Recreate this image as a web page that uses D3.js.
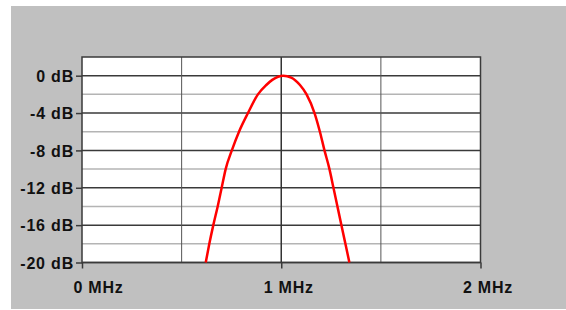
<!DOCTYPE html>
<html>
<head>
<meta charset="utf-8">
<script src="https://cdn.jsdelivr.net/npm/d3@7"></script>
<style>
  body { margin: 0; background: #fff; }
  text { font-family: "Liberation Sans", Arial, sans-serif; font-weight: bold; fill: #111; }
</style>
</head>
<body>
<div id="graph"></div>
<script>
// response curve (MHz, dB)
const freqMHz = [0.621, 0.639, 0.659, 0.681, 0.701, 0.721, 0.752, 0.788, 0.833, 0.883, 0.925, 0.955, 1.01, 1.05, 1.094, 1.127, 1.167, 1.194, 1.217, 1.242, 1.262, 1.282, 1.302, 1.322, 1.342];
const levelDb = [-20, -18, -16, -14, -12, -10, -8, -6, -4, -2, -1, -0.45, 0, -0.2, -1, -2, -4, -6, -8, -10, -12, -14, -16, -18, -20];

const xTicks = [0, 1, 2];
const xTickLabels = ["0 MHz", "1 MHz", "2 MHz"];
const xGrid = [0.5, 1, 1.5];
const yTicks = [0, -4, -8, -12, -16, -20];
const yTickLabels = ["0 dB", "-4 dB", "-8 dB", "-12 dB", "-16 dB", "-20 dB"];
const yMinor = [-2, -6, -10, -14, -18];

const data = freqMHz.map((f, i) => ({ f: f, db: levelDb[i] }));

let margin = {top: 57, left: 82},
    width = 398.5,
    height = 205.5;

let svg = d3.select("#graph")
      .append("svg")
      .attr("width", 566)
      .attr("height", 310);

// grey panel
svg.append("rect")
      .attr("x", 11).attr("y", 6)
      .attr("width", 555).attr("height", 303)
      .attr("fill", "#c0c0c0");

let x = d3.scaleLinear().domain([0, 2]).range([0, width]),
    y = d3.scaleLinear().domain([-20, 2]).range([height, 0]);

let g = svg.append("g")
      .attr("transform", "translate(" + margin.left + "," + margin.top + ")");

g.append("rect")
      .attr("width", width)
      .attr("height", height)
      .attr("fill", "#fff");

// light minor lines
g.selectAll(".minor")
      .data(yMinor)
      .enter().append("line")
      .attr("x1", 0).attr("x2", width)
      .attr("y1", d => y(d)).attr("y2", d => y(d))
      .attr("stroke", "#b4b4b4")
      .attr("stroke-width", 1.5);

// major horizontal lines
g.selectAll(".major")
      .data(yTicks)
      .enter().append("line")
      .attr("x1", 0).attr("x2", width)
      .attr("y1", d => y(d)).attr("y2", d => y(d))
      .attr("stroke", "#3a3a3a")
      .attr("stroke-width", 1.5);

// vertical grid
g.selectAll(".vgrid")
      .data(xGrid)
      .enter().append("line")
      .attr("x1", d => x(d)).attr("x2", d => x(d))
      .attr("y1", 0).attr("y2", height)
      .attr("stroke", d => d === 1 ? "#333" : "#555")
      .attr("stroke-width", d => d === 1 ? 1.5 : 1);

// border
g.append("rect")
      .attr("width", width)
      .attr("height", height)
      .attr("fill", "none")
      .attr("stroke", "#3a3a3a")
      .attr("stroke-width", 1.5);

// axes
let yAxis = d3.axisLeft(y)
      .tickValues(yTicks)
      .tickSize(6)
      .tickPadding(2)
      .tickFormat((d, i) => yTickLabels[i]);

let xAxis = d3.axisBottom(x)
      .tickValues(xTicks)
      .tickSize(6)
      .tickPadding(8)
      .tickFormat((d, i) => xTickLabels[i]);

let ya = g.append("g").call(yAxis);
let xa = g.append("g").attr("transform", "translate(0," + height + ")").call(xAxis);

[ya, xa].forEach(a => {
  a.select(".domain").remove();
  a.selectAll(".tick line").attr("stroke", "#3a3a3a").attr("stroke-width", 1.5);
  a.selectAll("text")
      .style("font-size", "16px")
      .style("letter-spacing", "0.8px")
      .attr("fill", "#111");
});
ya.selectAll("text").attr("dy", "0.36em");
xa.selectAll("text")
      .attr("dy", "1.05em")
      .attr("dx", (d, i) => i === 0 ? 16 : 7);

// response curve
let line = d3.line()
      .x(d => x(d.f))
      .y(d => y(d.db))
      .curve(d3.curveMonotoneX);

g.append("path")
      .datum(data)
      .attr("fill", "none")
      .attr("stroke", "#ff0000")
      .attr("stroke-width", 2.5)
      .attr("d", line);
</script>
</body>
</html>
